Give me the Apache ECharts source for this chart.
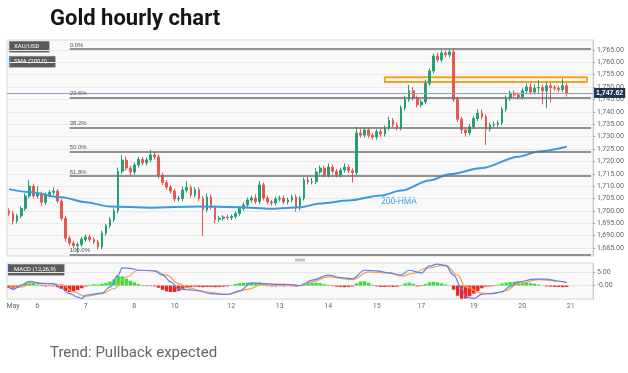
<!DOCTYPE html>
<html><head><meta charset="utf-8">
<script src="https://cdn.jsdelivr.net/npm/echarts/dist/echarts.min.js"></script>
<style>html,body{margin:0;padding:0;background:#fff}#c{width:628px;height:373px}</style>
</head><body><div id="c"></div>
<script>
// ---- data ----
const dayLabels   = ['May','6','7','8','10','12','13','14','15','17','19','20','21'];
const dayStartIdx = [1,7,19,31,41,55,67,79,91,102,115,127,139];
const totalSlots  = 145;
const firstOpen = 1700;
const closes = [
1699,1696,1698,1701,1706,1710,1706,1707,1703.5,1706.5,
1707.5,1708,1704,1697,1689,1687,1686,1686.5,1688.5,1689.5,
1688.5,1687.5,1685.5,1691,1694,1696.5,1700,1716,1720.5,1717.3,
1715.7,1718.5,1720.8,1719.4,1720.6,1722.6,1721.8,1714.5,1711.5,1709.6,
1708,1704.8,1705,1708.4,1709.5,1706.4,1708.5,1705,1700.4,1705.6,
1701.5,1696.5,1697,1697.5,1697.3,1697.8,1699,1701,1702.4,1704.4,
1705.2,1703.8,1710.5,1705.2,1703.6,1703.2,1704.8,1705.2,1703.6,1704.4,
1705.6,1701.2,1705.2,1712.5,1711.7,1711.8,1715.7,1717.3,1714.5,1717.7,
1716,1714.5,1716.5,1717.7,1716.2,1715.5,1731.5,1730.6,1732.7,1730.5,
1729.8,1732,1731,1733.5,1736.5,1734.7,1733.5,1741.6,1745,1748.5,
1745.6,1742.8,1744,1751.5,1756.5,1762.5,1761,1763.8,1763,1764.2,
1745,1737,1732.7,1731.5,1734,1737.3,1739.5,1738,1733,1734.7,
1735,1735.5,1741,1745.5,1747.6,1746.8,1746,1748.5,1750,1748,
1749.6,1749.8,1748.5,1750.5,1749.8,1749.5,1749,1750.5,1747.62
];
const wickHi = [
1,1,0.8,0.8,1,2.5,1,3,0.8,1,
1,1.5,0.8,0.8,1,1,0.8,0.8,1,1,
1,0.8,0.8,1,0.8,1,1,1.5,2,1.5,
1,1,1,1,1,2,1.5,1,1,1,
0.8,1,1,1.5,2.5,1,1,1,1,1.5,
1,0.8,1,0.8,1,0.8,0.8,1,1,1,
1,1.5,1.5,1,1,0.8,1,1,1,1,
1,1,0.8,1,1.5,1.5,1.5,1,1,1.5,
1,1,1,1.5,1,1,2.5,1.5,1,1,
1,1,1,1,1.5,1,1,1,1.5,2.5,
1.5,1,1,1.5,1,1,1.5,1,1,1.1,
1,1,1,1,1,1,1.5,1.5,1,1,
1,1,1,1,1,1,1,1,1.5,1.5,
1.5,3,1,1.5,1,1,1,3,1
];
const wickLo = [
1,1.5,1,1,1,1,1,1,1.5,1,
1,1,1,1,1.5,1,1,3,1,1,
1,1,1,1,1,1,1,1,1,1,
1.5,1,1,1,1,1,1,1.5,1,1,
1,1,1,1,1,1,1,1,10.4,1,
1,1.5,1,1,1,1,1,1,1,1,
1,1,1,1,1,1,1,1,1,1,
1,1.5,1,1,1,1,1,1,1,1,
1,1,1,1,1,4,1,1,1,1,
1,1,1,1,1,1,1,1,1,1,
1,1,1,1,1,1,1,1,1,1,
1,1,1.5,1.5,1,1,1,1,6.4,1,
1,1,1,1,1,1,1,1,1,1,
1,2,5.5,7,6,1,1,1,1.5
];
const smaPoints = [[0,1708.8],[5,1707.6],[13,1705.5],[19,1703.5],[25,1701.8],[35,1701.3],[47,1701.8],
[57,1701.5],[65,1700.9],[72,1701.5],[77,1703.0],[84,1704.2],[92,1706.2],[97,1708.2],[104,1712.3],
[109,1714.8],[117,1717.3],[126,1721.9],[131,1724.0],[138,1725.9]];
const fibLabels = ['0.0%','23.6%','38.2%','50.0%','61.8%','100.0%'];
const fibLevels = [1765.3,1745.8,1733.7,1723.9,1714.1,1682.5];
const fibStartIdx = 15, fibEndIdx = 144;
const lastPrice = 1747.62;
const zoneLow = 1752, zoneHigh = 1754, zoneStartIdx = 93, zoneEndIdx = 143;
const macdPoints = [[0,-0.75],[1,-1.4],[3,0],[5,1.6],[8,0.75],[11,0.75],[13,-1.1],[15,-3],[17,-4.3],[18,-4.8],
[19,-3.6],[23,-2.8],[25,-0.5],[27,3.9],[28,6.6],[30,6.4],[32,5.7],[36,5.5],[38,3.9],[40,1.4],[42,-1.4],
[44,-1.5],[47,-2],[50,-3],[54,-3.3],[57,-2],[60,1],[63,0.75],[66,0.4],[70,0.4],[72,0],[75,2],[79,3.9],
[82,3],[85,2.6],[88,5.7],[91,5.5],[94,4.7],[97,3.9],[99,5.7],[102,4.7],[104,7.2],[106,8],[108,7.4],
[110,3.9],[112,-1.1],[113,-4.3],[115,-4.8],[117,-3.3],[119,-3],[122,-2.4],[124,-0.3],[126,1.4],
[130,2.4],[133,2.4],[136,1.6],[138,1.1]];
const signalPoints = [[0,-0.5],[3,-0.6],[6,1.1],[10,0.75],[13,0.4],[16,-2.4],[19,-4],[23,-3],[26,-1.1],
[29,3.2],[32,5.7],[36,5.5],[39,3.9],[42,0.75],[44,-0.75],[49,-2.4],[54,-3.3],[59,-1.4],[63,0.5],[68,0.5],
[72,0],[75,1.4],[79,3.2],[85,2.2],[89,5.1],[94,4.7],[97,3.5],[100,4.5],[103,6.4],[108,7.6],[111,3.9],
[113,-0.5],[117,-2.8],[120,-3],[123,-1.8],[126,0.75],[131,2.2],[136,1.6],[138,1.1]];
const hist = [
-0.8,-1.1,-0.6,0.4,1.0,1.3,0.9,0.4,-0.2,-0.3,
-0.2,-0.3,-0.6,-1.2,-2.0,-2.4,-2.2,-1.6,-1.0,-0.3,
0.3,0.5,0.4,0.6,1.0,1.5,2.3,3.6,3.4,2.6,
1.8,1.2,0.6,0.2,-0.2,-0.2,-0.3,-0.8,-1.6,-2.2,
-2.4,-2.4,-2.0,-1.2,-0.7,-0.5,-0.4,-0.5,-0.6,-0.5,
-0.5,-0.6,-0.5,-0.4,-0.3,0.2,0.6,0.9,1.0,1.1,
1.0,0.9,1.1,0.6,-0.2,-0.3,-0.3,-0.2,-0.3,-0.2,
-0.3,-0.4,0.2,0.8,1.0,1.1,1.0,0.9,0.5,0.3,
-0.2,-0.4,-0.5,-0.6,-0.5,-0.3,0.8,1.5,1.6,1.0,
0.3,-0.3,-0.5,-0.5,-0.4,-0.5,-0.4,0.2,0.8,1.1,
0.7,-0.3,-0.2,0.6,1.2,1.4,1.2,0.8,0.4,0.1,
-1.5,-3.8,-4.9,-4.8,-4.0,-3.0,-2.0,-1.0,-0.4,-0.3,
-0.2,0.3,0.8,1.1,1.3,1.4,1.3,1.2,1.1,0.9,
0.7,0.4,0.1,-0.3,-0.4,-0.5,-0.5,-0.6,-0.5
];

// ---- build ----
const categories = [];
for (let i = 0; i < totalSlots; i++) categories.push(String(i));
const labelAt = {};
dayStartIdx.forEach((k, j) => { labelAt[k] = dayLabels[j]; });
const ohlc = closes.map((c, i) => {
  const o = i === 0 ? firstOpen : closes[i - 1];
  return [o, c, Math.min(o, c) - wickLo[i], Math.max(o, c) + wickHi[i]];
});
const fmtPrice = v => v.toLocaleString('en-US', {minimumFractionDigits: 2, maximumFractionDigits: 2});

const markLineData = [{
  yAxis: lastPrice,
  lineStyle: {color: '#8da0c4', width: 1, type: 'solid'},
  label: {show: true, position: 'end', formatter: fmtPrice(lastPrice), backgroundColor: '#1d3557',
          color: '#fff', fontSize: 7, fontWeight: 'bold', padding: [2, 2, 1, 2], distance: 1}
}];
fibLevels.forEach((lv, k) => {
  markLineData.push([
    {coord: [fibStartIdx, lv], lineStyle: {color: '#6f6f6f', width: 1.6, type: 'solid'},
     label: {show: true, position: 'insideStartTop', formatter: fibLabels[k], fontSize: 6, color: '#555', distance: [0, 1]}},
    {coord: [fibEndIdx, lv]}
  ]);
});

const chart = echarts.init(document.getElementById('c'));
chart.setOption({
  animation: false,
  backgroundColor: '#fff',
  title: [
    {text: 'Gold hourly chart', left: 50, top: 8, padding: 0,
     textStyle: {fontFamily: 'Roboto', fontWeight: 'bold', fontSize: 22, color: '#151515'}},
    {text: 'Trend: Pullback expected', left: 50, top: 346, padding: 0,
     textStyle: {fontFamily: 'Roboto', fontWeight: 'normal', fontSize: 15, color: '#666'}}
  ],
  grid: [
    {left: 7, width: 586, top: 40, height: 216, show: true, backgroundColor: '#f9f9f9', borderColor: '#d9d9d9', borderWidth: 1},
    {left: 7, width: 586, top: 263, height: 36, show: true, backgroundColor: '#f9f9f9', borderColor: '#d9d9d9', borderWidth: 1}
  ],
  xAxis: [
    {type: 'category', gridIndex: 0, data: categories, boundaryGap: true,
     axisLine: {show: false}, axisTick: {show: false}, axisLabel: {show: false}, splitLine: {show: false}},
    {type: 'category', gridIndex: 1, data: categories, boundaryGap: true,
     axisLine: {show: false}, axisTick: {show: false}, splitLine: {show: false},
     axisLabel: {show: true, interval: 0, formatter: (v, i) => labelAt[i] || '', fontSize: 7,
                 fontFamily: 'Roboto', color: '#666', margin: 4}}
  ],
  yAxis: [
    {type: 'value', gridIndex: 0, position: 'right', min: 1681.8, max: 1769, splitNumber: 17,
     minInterval: 5, maxInterval: 5, scale: true,
     axisLine: {show: true, lineStyle: {color: '#c8c8c8'}},
     axisTick: {show: true, length: 2, lineStyle: {color: '#999'}},
     axisLabel: {fontSize: 7, fontFamily: 'Roboto', color: '#666', margin: 4, showMinLabel: false, showMaxLabel: false,
                 formatter: v => fmtPrice(v)},
     splitLine: {show: true, lineStyle: {color: '#e9e9e9', width: 1}}},
    {type: 'value', gridIndex: 1, position: 'right', min: -5, max: 8.4, interval: 5,
     axisLine: {show: true, lineStyle: {color: '#c8c8c8'}},
     axisTick: {show: true, length: 2, lineStyle: {color: '#999'}},
     axisLabel: {fontSize: 7, fontFamily: 'Roboto', color: '#666', margin: 4, showMinLabel: false, showMaxLabel: false,
                 formatter: v => (v === 0 ? '-0.00' : v.toFixed(2))},
     splitLine: {show: true, lineStyle: {color: '#e6e6e6', width: 1}}}
  ],
  series: [
    {type: 'candlestick', xAxisIndex: 0, yAxisIndex: 0, data: ohlc, barWidth: '55%',
     itemStyle: {color: '#23a075', color0: '#e6594f', borderColor: '#23a075', borderColor0: '#e6594f', borderWidth: 1},
     markLine: {silent: true, symbol: ['none', 'none'], animation: false, data: markLineData},
     markArea: {silent: true, data: [[{coord: [zoneStartIdx, zoneHigh]}, {coord: [zoneEndIdx, zoneLow]}]],
                itemStyle: {color: 'rgba(0,0,0,0)', borderColor: '#f4a21c', borderWidth: 2}}
    },
    {type: 'line', xAxisIndex: 0, yAxisIndex: 0, data: smaPoints, smooth: 0.3, smoothMonotone: 'x',
     showSymbol: false, z: 4, lineStyle: {color: '#3b99df', width: 2}},
    {type: 'bar', xAxisIndex: 1, yAxisIndex: 1, data: hist, barWidth: '85%',
     itemStyle: {color: p => (p.value >= 0 ? '#38dc38' : '#ee2424')}},
    {type: 'line', xAxisIndex: 1, yAxisIndex: 1, data: signalPoints, smooth: 0.4, smoothMonotone: 'x', showSymbol: false,
     lineStyle: {color: '#f2a04e', width: 1.2}},
    {type: 'line', xAxisIndex: 1, yAxisIndex: 1, data: macdPoints, smooth: 0.4, smoothMonotone: 'x', showSymbol: false,
     lineStyle: {color: '#5d82ea', width: 1.2}}
  ],
  graphic: [
    {type: 'rect', left: 9, top: 41, shape: {width: 40, height: 11}, style: {fill: '#5a5a5a', stroke: '#888', lineWidth: 0.5}},
    {type: 'text', left: 14, top: 43.5, style: {text: 'XAU/USD', fill: '#fff', font: '6px Roboto'}},
    {type: 'rect', left: 9, top: 56, shape: {width: 46, height: 11}, style: {fill: '#5a5a5a', stroke: '#888', lineWidth: 0.5}},
    {type: 'rect', left: 9, top: 56, shape: {width: 1.5, height: 11}, style: {fill: '#3b99df'}},
    {type: 'text', left: 14, top: 58.5, style: {text: 'SMA (200,0)', fill: '#fff', font: '6px Roboto'}},
    {type: 'rect', left: 8, top: 264, shape: {width: 56, height: 11}, style: {fill: '#5a5a5a', stroke: '#888', lineWidth: 0.5}},
    {type: 'rect', left: 8, top: 264, shape: {width: 1.5, height: 11}, style: {fill: '#3b59df'}},
    {type: 'text', left: 14, top: 266.5, style: {text: 'MACD (12,26,9)', fill: '#fff', font: '6px Roboto'}},
    {type: 'text', left: 381, top: 197.5, style: {text: '200-HMA', fill: '#3b99df', font: '8.5px Roboto'}},
    {type: 'rect', left: 295, top: 258.5, shape: {width: 10, height: 3}, style: {fill: '#c4c4c4'}}
  ]
});
</script></body></html>
